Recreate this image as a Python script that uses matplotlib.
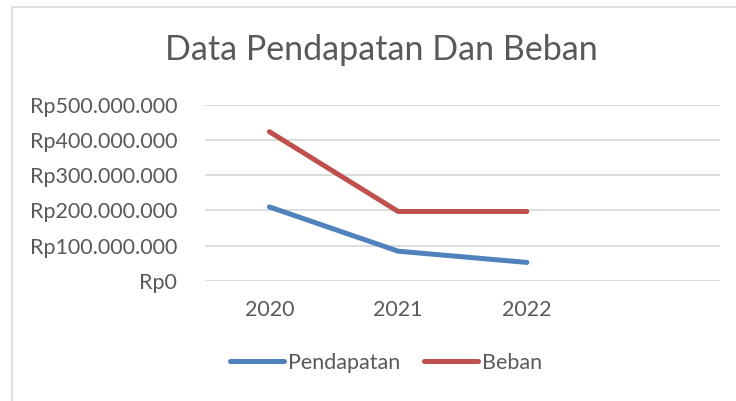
import matplotlib
matplotlib.use("Agg")
import matplotlib.pyplot as plt
from matplotlib.patches import Rectangle
from matplotlib.ticker import FuncFormatter

categories = ["2020", "2021", "2022", ""]
pendapatan = [210_000_000, 84_000_000, 52_000_000]
beban = [424_000_000, 197_000_000, 197_000_000]
yticks = [0, 100_000_000, 200_000_000, 300_000_000, 400_000_000, 500_000_000]

plt.rcParams['font.family'] = ['Lato', 'DejaVu Sans']
txt = '#595959'

fig = plt.figure(figsize=(7.36, 4.01), dpi=100)
fig.patch.set_facecolor('white')
W, H = 736, 401
fig.patches.append(Rectangle((12 / W, -0.05), 1.2, (401 - 7) / H + 0.05,
                             transform=fig.transFigure, fill=False,
                             edgecolor='#D9D9D9', linewidth=1.2))

ax = fig.add_axes([205 / W, (H - 280.7) / H, (720 - 205) / W, (280.7 - 105) / H])
x = list(range(len(categories)))
ax.plot(x[:len(pendapatan)], pendapatan, color='#4F81BD', linewidth=3.6,
        solid_capstyle='round', solid_joinstyle='round', label='Pendapatan', zorder=3)
ax.plot(x[:len(beban)], beban, color='#C0504D', linewidth=3.6,
        solid_capstyle='round', solid_joinstyle='round', label='Beban', zorder=3)

ax.set_xlim(-0.5, len(categories) - 0.5)
ax.set_ylim(0, 500_000_000)
ax.set_yticks(yticks)
ax.yaxis.set_major_formatter(FuncFormatter(
    lambda v, p: "Rp" + f"{int(v):,}".replace(",", ".")))
ax.set_xticks(x)
ax.set_xticklabels(categories)
ax.grid(axis='y', color='#D9D9D9', linewidth=1.3)
ax.set_axisbelow(True)
for s in ax.spines.values():
    s.set_visible(False)
ax.tick_params(axis='both', length=0, labelsize=15.5, labelcolor=txt)
ax.tick_params(axis='y', pad=20)
ax.tick_params(axis='x', pad=14)

fig.text(381 / W, 1 - 50 / H, "Data Pendapatan Dan Beban", ha='center', va='center',
         fontsize=24.5, color=txt)

leg = fig.legend(loc='center', bbox_to_anchor=(386 / W, 1 - 363 / H), ncol=2,
                 frameon=False, fontsize=15.5, handlelength=2.5, handletextpad=0.2,
                 columnspacing=1.1, labelcolor=txt)

fig.savefig("out.png", dpi=100)
